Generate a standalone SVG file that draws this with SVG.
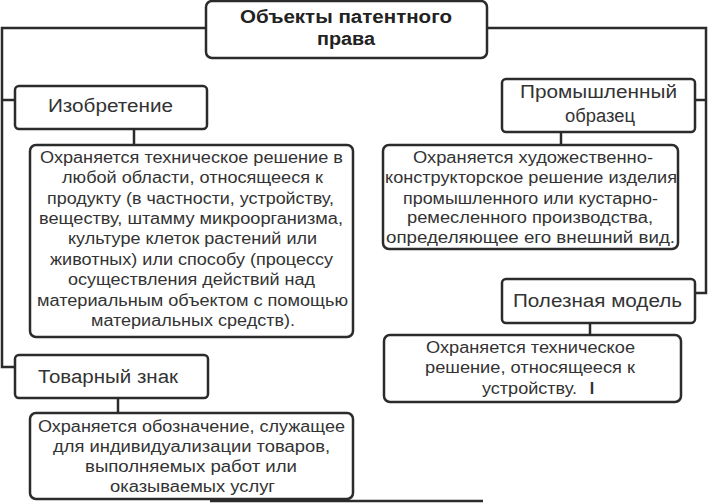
<svg xmlns="http://www.w3.org/2000/svg" width="711" height="504" viewBox="0 0 711 504">
<style>
.box{fill:#fff;stroke:#2b2b2b;stroke-width:2.5}
.ln{fill:none;stroke:#2b2b2b;stroke-width:2.5}
text{font-family:"Liberation Sans",Arial,sans-serif;fill:#333;text-anchor:middle}
.t{font-size:16px}
.h{font-size:18px}
.ttl{font-size:18px;font-weight:bold;fill:#222}
</style>
<rect width="711" height="504" fill="#fff"/>
<g id="connectors">
<path class="ln" d="M206 28H2V367H15"/>
<path class="ln" d="M2 100H15"/>
<path class="ln" d="M487 28H706V293H695"/>
<path class="ln" d="M695 100H706"/>
<path class="ln" d="M134 129V145"/>
<path class="ln" d="M118 398V413"/>
<path class="ln" d="M561 132V145"/>
<path class="ln" d="M590 323V335"/>
<path class="ln" d="M210 501H483"/>
</g>
<g id="title">
<rect class="box" x="206" y="1" width="281" height="57" rx="6"/>
<text class="ttl" x="346" y="23" textLength="212" lengthAdjust="spacingAndGlyphs">Объекты патентного</text>
<text class="ttl" x="346" y="45" textLength="58" lengthAdjust="spacingAndGlyphs">права</text>
</g>
<g id="izobretenie">
<rect class="box" x="15" y="86" width="192" height="43" rx="4"/>
<text class="h" x="110.5" y="112" textLength="125" lengthAdjust="spacingAndGlyphs">Изобретение</text>
</g>
<g id="izobretenie-desc">
<rect class="box" x="30" y="145" width="323" height="192" rx="6"/>
<text class="t" x="191.5" y="163" textLength="303" lengthAdjust="spacingAndGlyphs">Охраняется техническое решение в</text>
<text class="t" x="192.5" y="183" textLength="261" lengthAdjust="spacingAndGlyphs">любой области, относящееся к</text>
<text class="t" x="190.5" y="204" textLength="287" lengthAdjust="spacingAndGlyphs">продукту (в частности, устройству,</text>
<text class="t" x="191" y="224" textLength="304" lengthAdjust="spacingAndGlyphs">веществу, штамму микроорганизма,</text>
<text class="t" x="192.5" y="244" textLength="249" lengthAdjust="spacingAndGlyphs">культуре клеток растений или</text>
<text class="t" x="191.5" y="265" textLength="283" lengthAdjust="spacingAndGlyphs">животных) или способу (процессу</text>
<text class="t" x="191.5" y="285" textLength="247" lengthAdjust="spacingAndGlyphs">осуществления действий над</text>
<text class="t" x="192.5" y="306" textLength="311" lengthAdjust="spacingAndGlyphs">материальным объектом с помощью</text>
<text class="t" x="193" y="326" textLength="204" lengthAdjust="spacingAndGlyphs">материальных средств).</text>
</g>
<g id="tovarny-znak">
<rect class="box" x="15" y="355" width="193" height="43" rx="4"/>
<text class="h" x="108" y="383" textLength="140" lengthAdjust="spacingAndGlyphs">Товарный знак</text>
</g>
<g id="tovarny-znak-desc">
<rect class="box" x="30" y="413" width="323" height="86" rx="6"/>
<text class="t" x="191.5" y="432" textLength="307" lengthAdjust="spacingAndGlyphs">Охраняется обозначение, служащее</text>
<text class="t" x="191.5" y="452" textLength="277" lengthAdjust="spacingAndGlyphs">для индивидуализации товаров,</text>
<text class="t" x="191" y="472" textLength="212" lengthAdjust="spacingAndGlyphs">выполняемых работ или</text>
<text class="t" x="192.5" y="492" textLength="165" lengthAdjust="spacingAndGlyphs">оказываемых услуг</text>
</g>
<g id="prom-obrazec">
<rect class="box" x="502" y="79" width="193" height="53" rx="4"/>
<text class="h" x="598.5" y="98" textLength="157" lengthAdjust="spacingAndGlyphs">Промышленный</text>
<text class="h" x="600" y="122" textLength="70" lengthAdjust="spacingAndGlyphs">образец</text>
</g>
<g id="prom-obrazec-desc">
<rect class="box" x="383" y="145" width="295" height="104" rx="6"/>
<text class="t" x="533" y="163" textLength="240" lengthAdjust="spacingAndGlyphs">Охраняется художественно-</text>
<text class="t" x="531" y="183" textLength="292" lengthAdjust="spacingAndGlyphs">конструкторское решение изделия</text>
<text class="t" x="530.5" y="204" textLength="255" lengthAdjust="spacingAndGlyphs">промышленного или кустарно-</text>
<text class="t" x="530" y="223" textLength="246" lengthAdjust="spacingAndGlyphs">ремесленного производства,</text>
<text class="t" x="530.5" y="243" textLength="289" lengthAdjust="spacingAndGlyphs">определяющее его внешний вид.</text>
</g>
<g id="polez-model">
<rect class="box" x="502" y="279" width="193" height="44" rx="4"/>
<text class="h" x="597.5" y="307" textLength="169" lengthAdjust="spacingAndGlyphs">Полезная модель</text>
</g>
<g id="polez-model-desc">
<rect class="box" x="384" y="335" width="297" height="67" rx="6"/>
<text class="t" x="530.5" y="353" textLength="209" lengthAdjust="spacingAndGlyphs">Охраняется техническое</text>
<text class="t" x="530" y="373" textLength="210" lengthAdjust="spacingAndGlyphs">решение, относящееся к</text>
<text class="t" x="529.5" y="394" textLength="95" lengthAdjust="spacingAndGlyphs">устройству.</text>
<text class="t" x="592" y="394" style="font-weight:bold">I</text>
</g>
</svg>
